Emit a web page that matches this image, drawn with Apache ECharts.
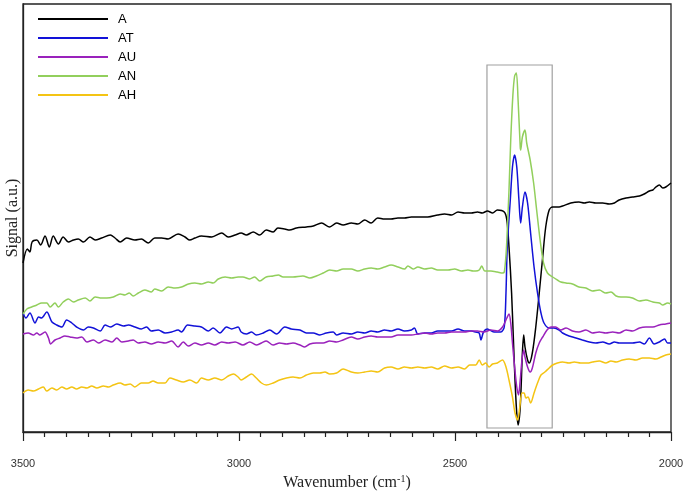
<!DOCTYPE html>
<html>
<head>
<meta charset="utf-8">
<script src="https://cdn.jsdelivr.net/npm/echarts@6/dist/echarts.min.js"></script>
<style>
html,body{margin:0;padding:0;background:#fff;}
#chart{width:685px;height:491px;}
</style>
</head>
<body>
<div id="chart"></div>
<script>
// Wavenumber (cm-1) / signal (a.u.) pairs
var seriesNames = ['A', 'AT', 'AU', 'AN', 'AH'];
var seriesColors = ['#000000', '#1212d8', '#9a22bc', '#92cf5c', '#f4c414'];
var xTicks = [3500, 3000, 2500, 2000];
var boxWn = [2426, 2275];
var boxSig = [0.04, 3.67];

var wnA = [3500,3490,3484,3479,3468,3459,3449,3439,3430,3418,3407,3395,3383,3372,3360,3345,3333,3318,3298,3287,3275,3260,3241,3226,3210,3195,3179,3164,3141,3125,3114,3102,3087,3063,3040,3025,3009,2995,2983,2967,2952,2937,2921,2910,2894,2883,2867,2844,2828,2809,2790,2774,2759,2740,2725,2709,2694,2679,2663,2648,2632,2617,2601,2586,2563,2540,2524,2508,2493,2478,2462,2448,2437,2425,2413,2402,2386,2380,2375,2369,2363,2358,2354,2349,2344,2341,2338,2332,2328,2321,2313,2305,2297,2290,2282,2274,2259,2251,2232,2213,2201,2189,2174,2158,2143,2131,2120,2104,2089,2073,2062,2050,2042,2035,2027,2019,2012,2000];
var sigA = [1.69,1.83,1.80,1.90,1.92,1.87,1.96,1.85,1.96,1.88,1.95,1.90,1.92,1.93,1.90,1.95,1.92,1.94,1.97,1.94,1.90,1.94,1.92,1.93,1.89,1.94,1.94,1.93,1.98,1.95,1.92,1.94,1.96,1.95,1.99,1.95,1.97,1.99,1.97,2.00,1.97,2.02,2.00,2.04,2.03,2.02,2.04,2.05,2.06,2.09,2.05,2.09,2.07,2.09,2.08,2.12,2.09,2.14,2.13,2.13,2.14,2.14,2.15,2.15,2.15,2.17,2.18,2.17,2.20,2.19,2.19,2.20,2.19,2.21,2.19,2.22,2.20,2.12,1.85,1.39,0.72,0.25,0.07,0.25,0.79,0.97,0.85,0.72,0.69,0.79,1.05,1.39,1.75,2.05,2.22,2.25,2.25,2.26,2.29,2.30,2.29,2.30,2.29,2.29,2.28,2.29,2.32,2.34,2.35,2.36,2.38,2.41,2.42,2.45,2.47,2.44,2.45,2.49];

var wnAT = [3500,3493,3484,3472,3464,3457,3445,3433,3422,3410,3399,3387,3376,3360,3349,3337,3321,3310,3298,3283,3267,3256,3241,3226,3214,3203,3187,3171,3156,3141,3133,3119,3102,3087,3071,3060,3044,3029,3017,3002,2995,2983,2971,2960,2944,2929,2913,2894,2879,2859,2844,2828,2813,2798,2782,2774,2759,2740,2725,2709,2694,2679,2663,2648,2632,2617,2601,2594,2586,2570,2555,2540,2524,2508,2493,2478,2462,2452,2444,2440,2434,2425,2410,2394,2386,2382,2379,2372,2367,2362,2357,2352,2348,2344,2338,2332,2325,2317,2309,2301,2294,2282,2271,2259,2251,2236,2220,2205,2189,2174,2158,2143,2131,2120,2104,2089,2073,2062,2050,2039,2027,2015,2008,2000];
var sigAT = [1.19,1.14,1.19,1.09,1.15,1.14,1.20,1.10,1.07,1.05,1.12,1.09,1.05,1.02,1.05,1.04,1.01,1.07,1.05,1.08,1.06,1.07,1.05,1.03,1.05,1.01,1.02,0.99,1.00,1.02,1.00,1.07,1.06,1.05,1.01,1.04,0.99,1.05,1.03,1.05,1.00,0.98,1.00,0.97,0.99,1.02,0.98,1.05,1.03,1.02,0.99,0.99,0.97,0.99,1.00,0.97,0.99,0.98,1.00,0.99,1.01,1.00,1.02,1.01,1.03,1.01,1.02,1.04,0.98,0.99,0.99,1.01,1.01,1.01,1.03,1.01,1.01,1.00,0.99,0.92,1.00,1.03,1.00,1.00,1.05,1.39,1.85,2.32,2.65,2.77,2.65,2.32,2.09,2.25,2.40,2.29,1.99,1.65,1.39,1.19,1.09,1.04,1.04,1.02,0.99,0.96,0.94,0.92,0.90,0.89,0.90,0.88,0.90,0.89,0.89,0.89,0.90,0.88,0.94,0.88,0.90,0.93,0.89,0.89];

var wnAU = [3500,3488,3476,3468,3461,3449,3441,3436,3426,3414,3403,3391,3376,3364,3352,3337,3325,3310,3294,3283,3271,3256,3245,3233,3218,3203,3187,3171,3156,3141,3129,3117,3102,3087,3071,3056,3040,3025,3009,2991,2975,2960,2948,2937,2921,2906,2890,2875,2859,2848,2836,2821,2805,2790,2774,2759,2740,2725,2709,2694,2679,2663,2648,2632,2617,2601,2586,2570,2555,2540,2524,2508,2493,2478,2462,2448,2433,2417,2402,2390,2380,2375,2371,2367,2362,2357,2353,2349,2345,2341,2338,2332,2326,2321,2313,2305,2297,2287,2278,2267,2255,2243,2228,2213,2197,2182,2166,2151,2135,2120,2104,2089,2073,2058,2042,2027,2012,2000];
var sigAU = [0.98,0.99,0.97,0.99,0.97,1.00,0.94,0.88,0.92,0.94,0.96,0.95,0.94,0.95,0.90,0.92,0.89,0.92,0.90,0.94,0.90,0.91,0.92,0.89,0.90,0.88,0.90,0.89,0.91,0.85,0.90,0.86,0.89,0.87,0.89,0.87,0.90,0.89,0.90,0.87,0.90,0.87,0.89,0.91,0.87,0.89,0.88,0.89,0.87,0.85,0.88,0.89,0.89,0.91,0.90,0.92,0.95,0.93,0.95,0.96,0.95,0.95,0.95,0.97,0.97,0.97,0.98,0.99,0.98,0.99,0.99,1.00,1.00,1.00,1.01,1.01,1.00,1.02,1.01,1.05,1.14,1.18,1.09,0.89,0.65,0.45,0.37,0.52,0.72,0.82,0.75,0.65,0.60,0.64,0.79,0.89,0.95,1.02,1.05,1.05,1.02,1.04,1.01,1.00,1.02,0.99,1.00,0.99,1.00,0.99,1.02,1.01,1.04,1.05,1.05,1.07,1.08,1.09];

var wnAN = [3500,3491,3480,3468,3457,3445,3437,3426,3418,3407,3395,3383,3372,3356,3345,3333,3318,3306,3291,3275,3264,3254,3245,3233,3218,3203,3195,3179,3164,3148,3133,3117,3102,3087,3071,3060,3048,3032,3017,3002,2991,2975,2964,2952,2937,2921,2909,2898,2875,2852,2836,2821,2805,2790,2774,2759,2740,2725,2709,2694,2679,2663,2648,2632,2617,2609,2597,2586,2570,2555,2540,2516,2501,2485,2470,2458,2452,2444,2438,2431,2417,2402,2390,2386,2382,2380,2375,2371,2366,2362,2358,2354,2349,2348,2344,2338,2334,2326,2318,2311,2303,2295,2286,2274,2263,2255,2243,2228,2213,2197,2182,2166,2151,2139,2127,2116,2104,2089,2073,2058,2042,2027,2019,2008,2000];
var sigAN = [1.18,1.23,1.25,1.27,1.29,1.29,1.25,1.29,1.25,1.30,1.33,1.30,1.32,1.34,1.31,1.35,1.34,1.34,1.35,1.38,1.37,1.39,1.36,1.39,1.42,1.40,1.43,1.41,1.45,1.44,1.45,1.48,1.49,1.48,1.50,1.49,1.53,1.55,1.54,1.55,1.55,1.53,1.55,1.51,1.55,1.56,1.57,1.55,1.55,1.56,1.54,1.56,1.59,1.62,1.61,1.63,1.63,1.61,1.63,1.64,1.63,1.65,1.67,1.65,1.63,1.66,1.63,1.65,1.63,1.64,1.62,1.62,1.63,1.61,1.62,1.61,1.61,1.62,1.66,1.61,1.61,1.60,1.59,1.60,1.77,1.92,2.42,2.92,3.37,3.56,3.59,3.32,2.85,2.82,2.95,3.02,2.89,2.72,2.49,2.22,1.92,1.69,1.59,1.55,1.52,1.50,1.49,1.48,1.45,1.44,1.41,1.42,1.39,1.40,1.36,1.35,1.35,1.34,1.31,1.32,1.30,1.29,1.27,1.29,1.28];

var wnAH = [3500,3488,3476,3464,3453,3445,3433,3422,3410,3399,3387,3376,3364,3352,3341,3329,3314,3302,3291,3275,3264,3252,3241,3226,3210,3199,3187,3171,3160,3145,3129,3114,3098,3087,3071,3056,3040,3025,3013,3002,2995,2983,2971,2960,2948,2937,2921,2906,2890,2875,2859,2844,2828,2813,2801,2790,2774,2759,2740,2725,2709,2694,2679,2663,2648,2632,2617,2601,2586,2570,2555,2540,2524,2508,2493,2478,2466,2452,2444,2437,2429,2421,2413,2402,2390,2382,2375,2367,2361,2355,2350,2345,2340,2336,2331,2325,2317,2309,2301,2292,2282,2274,2263,2251,2236,2224,2209,2193,2182,2166,2151,2139,2127,2112,2097,2081,2066,2050,2035,2023,2012,2000];
var sigAH = [0.39,0.42,0.41,0.43,0.45,0.41,0.44,0.42,0.45,0.43,0.45,0.43,0.45,0.44,0.46,0.44,0.46,0.45,0.47,0.49,0.47,0.48,0.45,0.49,0.49,0.51,0.49,0.49,0.54,0.52,0.50,0.52,0.49,0.54,0.52,0.54,0.52,0.56,0.58,0.55,0.52,0.55,0.58,0.54,0.49,0.47,0.49,0.52,0.54,0.55,0.54,0.57,0.59,0.59,0.60,0.58,0.59,0.63,0.60,0.59,0.60,0.61,0.60,0.64,0.65,0.63,0.65,0.64,0.65,0.64,0.65,0.63,0.66,0.64,0.65,0.63,0.67,0.67,0.72,0.67,0.69,0.65,0.68,0.69,0.72,0.65,0.52,0.35,0.19,0.12,0.25,0.39,0.39,0.34,0.35,0.29,0.39,0.49,0.57,0.60,0.64,0.67,0.69,0.70,0.69,0.70,0.69,0.69,0.70,0.71,0.69,0.71,0.70,0.72,0.73,0.72,0.74,0.74,0.73,0.75,0.77,0.78];

var wnList = [wnA, wnAT, wnAU, wnAN, wnAH];
var sigList = [sigA, sigAT, sigAU, sigAN, sigAH];

function pairs(w, s) {
  var out = [];
  for (var i = 0; i < w.length; i++) out.push([w[i], s[i]]);
  return out;
}

var series = seriesNames.map(function (n, i) {
  var s = {
    name: n,
    type: 'line',
    data: pairs(wnList[i], sigList[i]),
    showSymbol: false,
    symbol: 'none',
    smooth: 0.3,
    lineStyle: { width: 1.5, color: seriesColors[i] },
    itemStyle: { color: seriesColors[i] },
    z: 3
  };
  if (i === 0) {
    s.markArea = {
      silent: true,
      itemStyle: { color: 'rgba(0,0,0,0)', borderColor: '#a0a0a0', borderWidth: 1.2 },
      data: [[{ xAxis: boxWn[0], yAxis: boxSig[1] }, { xAxis: boxWn[1], yAxis: boxSig[0] }]]
    };
  }
  return s;
});

var chart = echarts.init(document.getElementById('chart'), null, { renderer: 'canvas' });
chart.setOption({
  animation: false,
  backgroundColor: '#ffffff',
  grid: { left: 23, right: 14, top: 4, bottom: 59, outerBoundsMode: 'none', containLabel: false, show: true, borderColor: '#222', borderWidth: 1.3, backgroundColor: 'transparent' },
  legend: {
    orient: 'vertical',
    left: 38,
    top: 12,
    padding: 0,
    itemWidth: 70,
    itemHeight: 2,
    itemGap: 5,
    icon: 'rect',
    data: seriesNames,
    textStyle: { fontFamily: 'Liberation Sans, Arial, sans-serif', fontSize: 13, color: '#000', lineHeight: 14, padding: [0, 0, 0, 5] }
  },
  xAxis: {
    type: 'value',
    inverse: true,
    min: 2000,
    max: 3500,
    interval: 500,
    name: 'Wavenumber (cm{s|-1})',
    nameLocation: 'middle',
    nameGap: 42,
    nameTextStyle: {
      fontFamily: 'Liberation Serif, Times New Roman, serif',
      fontSize: 16,
      color: '#222',
      rich: { s: { fontFamily: 'Liberation Serif, serif', fontSize: 10, color: '#222', padding: [0, 0, 8, 0] } }
    },
    axisLine: { show: true, lineStyle: { color: '#222', width: 1.3 } },
    axisTick: { show: true, length: 9, lineStyle: { color: '#222', width: 1.2 } },
    minorTick: { show: true, splitNumber: 10, length: 5, lineStyle: { color: '#222', width: 1.2 } },
    axisLabel: {
      margin: 26,
      fontFamily: 'Liberation Sans, Arial, sans-serif',
      fontSize: 11,
      color: '#333',
      formatter: function (v) { return xTicks.indexOf(v) >= 0 ? String(v) : ''; }
    },
    splitLine: { show: false },
    minorSplitLine: { show: false }
  },
  yAxis: {
    type: 'value',
    min: 0,
    max: 4.28,
    name: 'Signal (a.u.)',
    nameLocation: 'middle',
    nameGap: 2,
    nameRotate: 90,
    nameTextStyle: { fontFamily: 'Liberation Serif, Times New Roman, serif', fontSize: 16, color: '#222' },
    axisLine: { show: true, lineStyle: { color: '#222', width: 1.3 } },
    axisTick: { show: false },
    axisLabel: { show: false },
    splitLine: { show: false }
  },
  series: series
});
</script>
</body>
</html>
